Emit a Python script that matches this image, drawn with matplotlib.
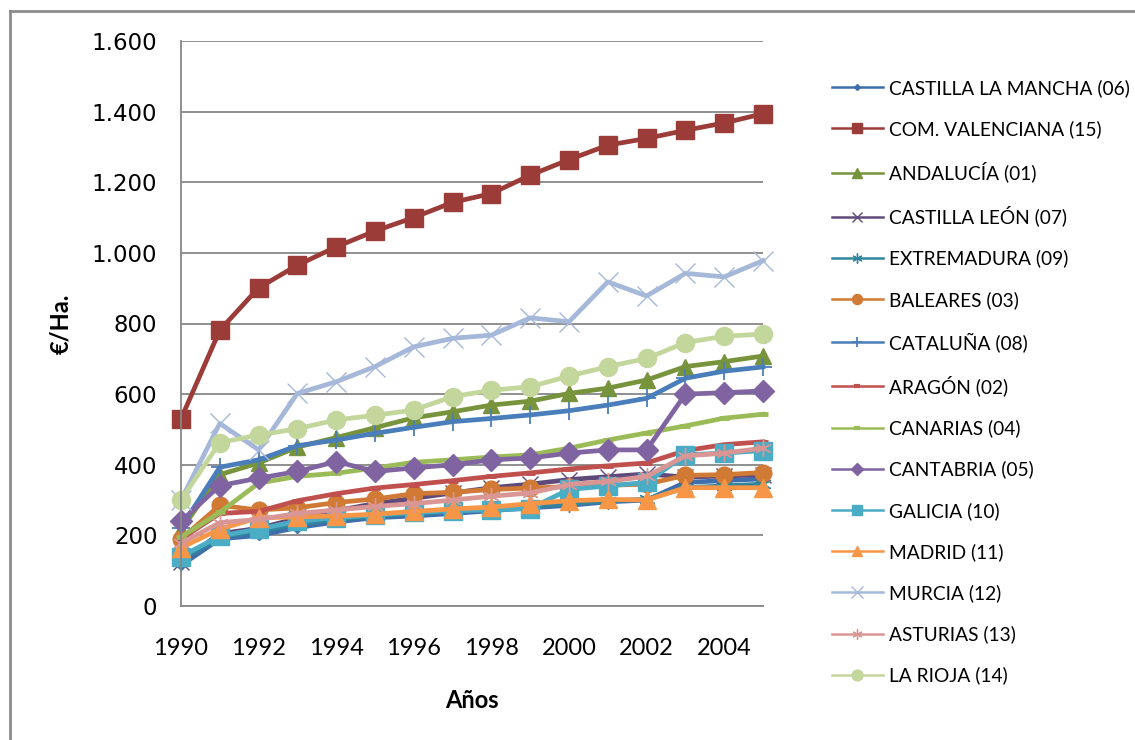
import matplotlib
matplotlib.use("Agg")
import matplotlib.pyplot as plt
from matplotlib.lines import Line2D
from matplotlib.ticker import FuncFormatter, MultipleLocator

# Precio medio de la tierra por comunidad autónoma (€/Ha.)
years = list(range(1990, 2006))

castilla_la_mancha = [115, 190, 200, 222, 238, 250, 255, 262, 270, 278, 285, 295, 300, 350, 355, 360]
com_valenciana = [530, 781, 901, 965, 1017, 1062, 1100, 1143, 1168, 1220, 1264, 1305, 1324, 1347, 1368, 1394]
andalucia = [215, 372, 405, 450, 477, 505, 533, 550, 569, 580, 602, 617, 640, 678, 692, 708]
castilla_leon = [125, 205, 220, 248, 270, 290, 305, 320, 335, 345, 358, 366, 374, 365, 368, 372]
extremadura = [130, 195, 212, 232, 245, 255, 262, 268, 275, 282, 290, 298, 302, 335, 340, 345]
baleares = [190, 285, 272, 278, 293, 303, 318, 322, 330, 334, 338, 342, 345, 370, 372, 378]
cataluna = [222, 393, 414, 454, 470, 489, 506, 522, 531, 541, 553, 569, 588, 645, 665, 677]
aragon = [190, 262, 268, 298, 318, 334, 344, 355, 367, 377, 388, 397, 405, 440, 457, 465]
canarias = [195, 265, 348, 367, 376, 391, 407, 414, 422, 428, 447, 470, 490, 510, 532, 543]
cantabria = [240, 341, 362, 381, 409, 381, 391, 400, 414, 419, 433, 442, 442, 600, 604, 609]
galicia = [140, 198, 218, 240, 250, 258, 265, 270, 272, 276, 330, 340, 350, 428, 433, 440]
madrid = [165, 218, 250, 252, 255, 260, 268, 275, 280, 290, 298, 302, 300, 335, 335, 335]
murcia = [300, 517, 442, 602, 635, 678, 734, 758, 767, 816, 805, 918, 878, 942, 932, 978]
asturias = [178, 236, 245, 262, 272, 282, 290, 300, 311, 320, 344, 353, 367, 425, 433, 447]
la_rioja = [300, 463, 484, 502, 527, 540, 555, 593, 611, 621, 651, 678, 701, 746, 764, 770]

labels = [
    "CASTILLA LA MANCHA (06)", "COM. VALENCIANA (15)", "ANDALUCÍA (01)",
    "CASTILLA LEÓN (07)", "EXTREMADURA (09)", "BALEARES (03)", "CATALUÑA (08)",
    "ARAGÓN (02)", "CANARIAS (04)", "CANTABRIA (05)", "GALICIA (10)",
    "MADRID (11)", "MURCIA (12)", "ASTURIAS (13)", "LA RIOJA (14)",
]
series = [
    castilla_la_mancha, com_valenciana, andalucia, castilla_leon, extremadura,
    baleares, cataluna, aragon, canarias, cantabria, galicia, madrid, murcia,
    asturias, la_rioja,
]

# estilo de cada serie: color, marcador, tamaño, grosor del marcador
colors = ["#3F6EAC", "#9B3C39", "#77933C", "#604A7B", "#31859C", "#D07A35",
          "#4A7EBB", "#C0504D", "#9BBB59", "#8064A2", "#4BACC6", "#F79646",
          "#A5B8D9", "#D99694", "#C3D69B"]
markers = ["D", "s", "^", "x", (6, 2, 0), "o", "+", "_", "_", "D", "s", "^",
           "x", (6, 2, 0), "o"]
msizes = [5, 13, 12, 12, 12, 12, 13, 7, 7, 11, 13, 13, 14, 12, 13]
mwidths = [1, 1, 1, 1.0, 1.0, 1, 1.3, 3.5, 3.5, 1, 1, 1, 1.0, 1.0, 1]

fig = plt.figure(figsize=(11.35, 7.4), dpi=100)
ax = fig.add_axes([181 / 1135, 1 - 606 / 740, (763 - 181) / 1135, (606 - 41) / 740])

handles = []
for vals, lab, c, m, ms, mw in zip(series, labels, colors, markers, msizes, mwidths):
    ax.plot(years, vals, color=c, lw=3.4, marker=m, markersize=ms,
            markerfacecolor=c, markeredgecolor=c, markeredgewidth=mw,
            solid_joinstyle="round", clip_on=False)
    handles.append(Line2D([0], [0], color=c, lw=1.8, marker=m,
                          markersize=ms * 0.6 if m != "_" else 5,
                          markerfacecolor=c, markeredgecolor=c,
                          markeredgewidth=mw if m != "_" else 3))

ax.set_xlim(1990, 2005)
ax.set_ylim(0, 1600)
ax.yaxis.set_major_locator(MultipleLocator(200))
ax.xaxis.set_major_locator(MultipleLocator(2))
ax.yaxis.set_major_formatter(FuncFormatter(lambda v, p: f"{int(v):,}".replace(",", ".")))
ax.grid(axis="y", color="#878787", lw=1.3)
ax.set_axisbelow(True)
for s in ("top", "right"):
    ax.spines[s].set_visible(False)
for s in ("left", "bottom"):
    ax.spines[s].set_color("#878787")
    ax.spines[s].set_linewidth(1.3)
ax.tick_params(axis="both", length=0)
ax.tick_params(axis="y", pad=17)
ax.tick_params(axis="x", pad=23)
for t in ax.get_yticklabels():
    t.set_fontfamily("DejaVu Sans")
    t.set_fontsize(16.5)
for t in ax.get_xticklabels():
    t.set_fontfamily("Lato")
    t.set_fontsize(17)

ax.set_xlabel("Años", fontfamily="Lato", fontweight="bold", fontsize=17, labelpad=22)
ax.set_ylabel("€/Ha.", fontfamily="Lato", fontweight="bold", fontsize=17, labelpad=14)

fig.legend(handles, labels, loc="upper left",
           bbox_to_anchor=(832 / 1135, 1 - 79 / 740), frameon=False,
           prop={"family": "Lato", "size": 13.8}, handlelength=2.66,
           handletextpad=0.31, labelspacing=1.215, borderpad=0, borderaxespad=0)

# marco exterior del gráfico
fig.add_artist(Line2D([10 / 1135, 10 / 1135], [0, 1 - 11 / 740],
                      transform=fig.transFigure, color="#8C8C8C", lw=2))
fig.add_artist(Line2D([10 / 1135, 1], [1 - 11 / 740, 1 - 11 / 740],
                      transform=fig.transFigure, color="#8C8C8C", lw=2))

fig.savefig("out.png", dpi=100)
